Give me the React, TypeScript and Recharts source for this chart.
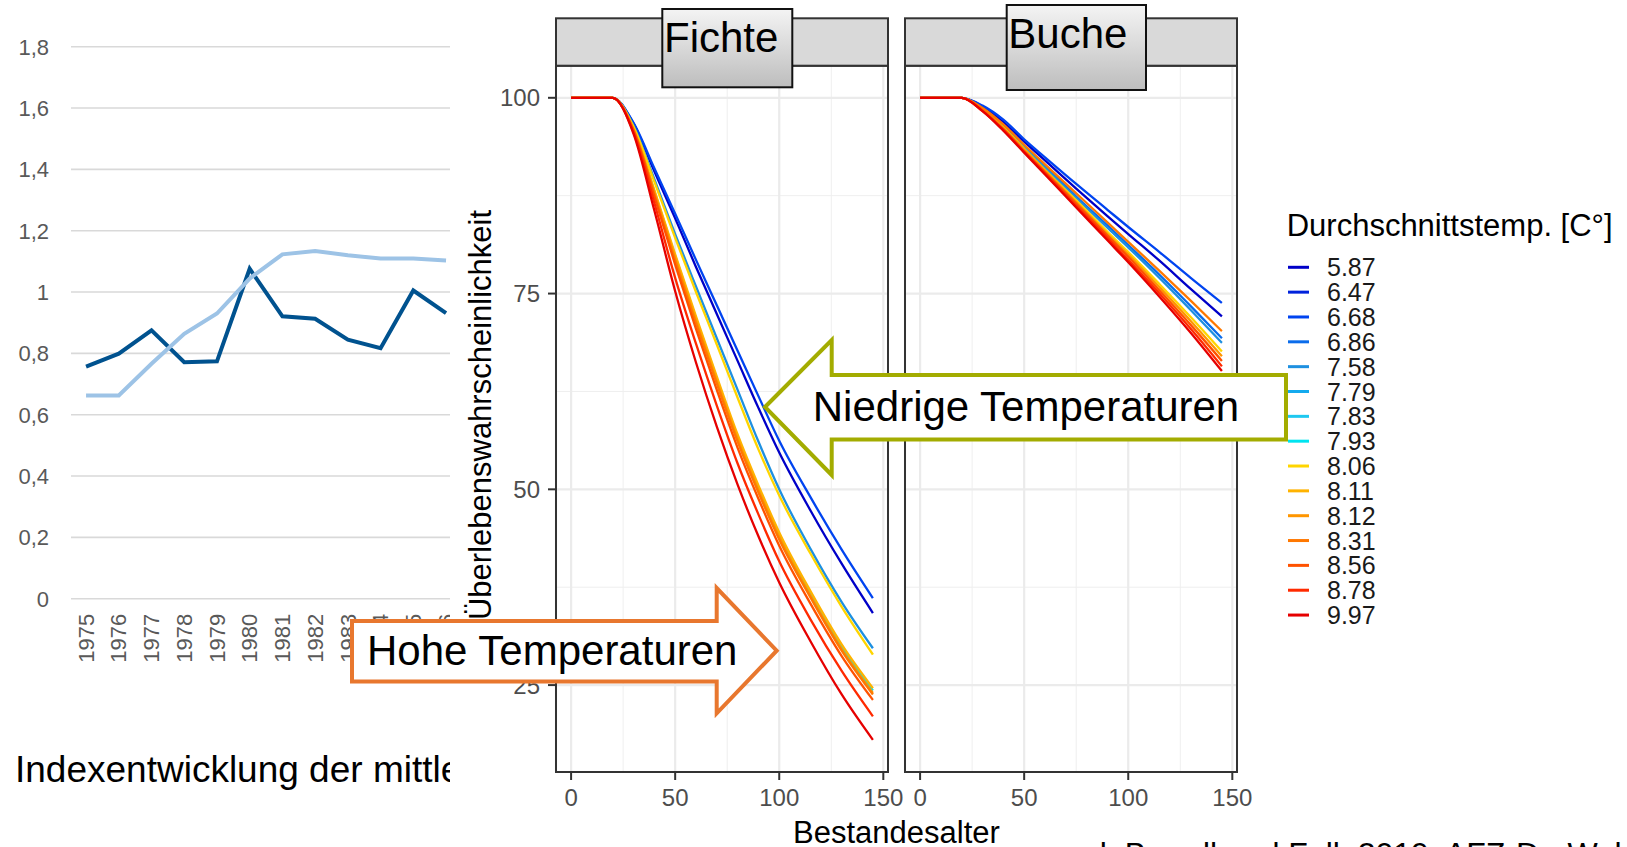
import React from "react";
import {
  LineChart,
  Line,
  XAxis,
  YAxis,
  CartesianGrid,
  ReferenceArea,
} from "recharts";

const FONT = '"Liberation Sans", Arial, Helvetica, sans-serif';

// left chart: index values
const years = [1975, 1976, 1977, 1978, 1979, 1980, 1981, 1982, 1983, 1984, 1985, 1986];
const indexDark = [0.757, 0.799, 0.875, 0.771, 0.774, 1.076, 0.921, 0.913, 0.845, 0.817, 1.005, 0.931];
const indexLight = [0.663, 0.663, 0.766, 0.864, 0.93, 1.044, 1.123, 1.134, 1.12, 1.109, 1.109, 1.103];
const indexTicks = [0, 0.2, 0.4, 0.6, 0.8, 1, 1.2, 1.4, 1.6, 1.8];

// legend
const temps = ["5.87", "6.47", "6.68", "6.86", "7.58", "7.79", "7.83", "7.93", "8.06", "8.11", "8.12", "8.31", "8.56", "8.78", "9.97"];
const tempColors = ["#0000C8", "#0022DC", "#0044F0", "#0A6CEB", "#1E90E0", "#14AAEE", "#1EC8F0", "#00E4F0", "#FFD500", "#FFB300", "#FF9600", "#FF7800", "#FF5200", "#FF2A00", "#E60000"];

// Fichte survival (%) by stand age
const fichteAges = [0, 20, 30, 40, 50, 60, 70, 80, 90, 100, 115, 130, 145];
const fichte587 = [100, 100, 96.7, 90.6, 84.6, 78.4, 72.4, 66.4, 60.4, 54.7, 47.3, 40.5, 34.2];
const fichte668 = [100, 100, 96.8, 91.0, 85.2, 79.3, 73.5, 67.7, 61.9, 56.2, 49.0, 42.3, 36.1];
const fichte758 = [100, 100, 96.4, 89.6, 82.6, 75.9, 69.3, 62.7, 56.1, 50.0, 42.4, 35.6, 29.7];
const fichte793 = [100, 100, 96.0, 88.1, 79.8, 71.8, 64.1, 56.7, 50.2, 44.2, 36.7, 29.9, 24.3];
const fichte806 = [100, 100, 96.3, 89.3, 82.1, 75.2, 68.5, 61.7, 55.1, 49.2, 41.8, 35.0, 28.9];
const fichte811 = [100, 100, 96.0, 88.2, 80.0, 72.1, 64.4, 57.0, 50.5, 44.5, 37.0, 30.2, 24.6];
const fichte812 = [100, 100, 95.9, 87.9, 79.5, 71.5, 63.8, 56.4, 49.9, 43.9, 36.4, 29.6, 24.0];
const fichte831 = [100, 100, 95.9, 87.7, 79.2, 71.2, 63.5, 56.1, 49.6, 43.6, 36.2, 29.4, 23.8];
const fichte856 = [100, 100, 95.8, 87.4, 78.7, 70.5, 62.7, 55.3, 48.8, 42.8, 35.4, 28.7, 23.1];
const fichte878 = [100, 100, 95.6, 86.6, 77.0, 68.6, 60.7, 53.3, 46.8, 40.8, 33.4, 26.8, 21.0];
const fichte997 = [100, 100, 95.4, 85.6, 75.3, 66.2, 58.0, 50.6, 44.0, 38.1, 30.6, 23.8, 18.0];

// Buche survival (%) by stand age
const bucheAges = [0, 20, 30, 40, 50, 60, 75, 90, 100, 115, 130, 145];
const buche587 = [100, 100, 98.9, 96.9, 94.4, 92.0, 88.4, 84.9, 82.6, 79.2, 75.6, 72.1];
const buche668 = [100, 100, 99.0, 97.2, 94.7, 92.4, 89.0, 85.7, 83.5, 80.3, 77.0, 73.8];
const buche686 = [100, 100, 98.6, 96.5, 93.8, 91.3, 87.4, 83.7, 81.2, 77.4, 73.4, 69.3];
const buche758 = [100, 100, 98.6, 96.4, 93.7, 91.1, 87.2, 83.4, 80.9, 77.0, 72.9, 68.7];
const buche806 = [100, 100, 98.5, 96.2, 93.5, 90.8, 86.9, 82.9, 80.3, 76.2, 72.0, 67.6];
const buche812 = [100, 100, 98.5, 96.1, 93.4, 90.7, 86.7, 82.6, 80.0, 75.8, 71.5, 67.0];
const buche831 = [100, 100, 98.7, 96.6, 94.0, 91.5, 87.8, 84.1, 81.6, 77.9, 74.1, 70.2];
const buche856 = [100, 100, 98.4, 96.0, 93.2, 90.5, 86.5, 82.4, 79.7, 75.4, 71.0, 66.4];
const buche878 = [100, 100, 98.3, 95.9, 93.1, 90.4, 86.2, 82.1, 79.3, 75.0, 70.5, 65.7];
const buche997 = [100, 100, 98.3, 95.8, 93.0, 90.2, 86.0, 81.8, 79.0, 74.6, 70.0, 65.1];

const ageTicks = [0, 50, 100, 150];
const ageMinor = [25, 75, 125];
const survTicks = [25, 50, 75, 100];
const survMinor = [37.5, 62.5, 87.5];
const ageDomain: [number, number] = [-7.25, 152.25];
const survDomain: [number, number] = [13.9, 104.1];

type Series = [string, number[]];

const fichteSeries: Series[] = [
  ["5.87", fichte587],
  ["6.68", fichte668],
  ["7.58", fichte758],
  ["7.93", fichte793],
  ["8.06", fichte806],
  ["8.11", fichte811],
  ["8.12", fichte812],
  ["8.31", fichte831],
  ["8.56", fichte856],
  ["8.78", fichte878],
  ["9.97", fichte997],
];

const bucheSeries: Series[] = [
  ["5.87", buche587],
  ["6.68", buche668],
  ["6.86", buche686],
  ["7.58", buche758],
  ["8.06", buche806],
  ["8.12", buche812],
  ["8.31", buche831],
  ["8.56", buche856],
  ["8.78", buche878],
  ["9.97", buche997],
];

function toRows(ages: number[], series: Series[]) {
  return ages.map((age, i) => {
    const row: Record<string, number> = { age };
    series.forEach(([t, vals]) => {
      row[t] = vals[i];
    });
    return row;
  });
}

const colorOf = (t: string) => tempColors[temps.indexOf(t)];

const indexRows = years.map((year, i) => ({
  year,
  dark: indexDark[i],
  light: indexLight[i],
}));

const fmtIndex = (v: number) =>
  v === 0 ? "0" : v === 1 ? "1" : v.toFixed(1).replace(".", ",");

function YearTick({ x, y, payload }: any) {
  return (
    <text
      x={x}
      y={y}
      dy="0.35em"
      textAnchor="end"
      transform={`rotate(-90, ${x}, ${y})`}
      fontSize={22}
      fill="#595959"
      fontFamily={FONT}
    >
      {payload.value}
    </text>
  );
}

function IndexChart() {
  return (
    <div
      style={{
        position: "absolute",
        left: 0,
        top: 0,
        width: 450,
        height: 847,
        overflow: "hidden",
      }}
    >
      <LineChart
        width={470}
        height={690}
        data={indexRows}
        margin={{ top: 46.7, right: 7.6, bottom: 0, left: 0 }}
      >
        <CartesianGrid vertical={false} stroke="#D9D9D9" strokeWidth={1.6} />
        <XAxis
          type="number"
          dataKey="year"
          domain={[1974.54, 1986.5]}
          ticks={years}
          interval={0}
          allowDataOverflow
          axisLine={false}
          tickLine={false}
          tickSize={0}
          tickMargin={15}
          height={91.3}
          tick={<YearTick />}
        />
        <YAxis
          type="number"
          domain={[0, 1.8]}
          ticks={indexTicks}
          interval={0}
          width={71}
          axisLine={false}
          tickLine={false}
          tickSize={0}
          tickMargin={22}
          tickFormatter={fmtIndex}
          tick={{ fontSize: 22, fill: "#595959", fontFamily: FONT }}
        />
        <Line
          dataKey="dark"
          type="linear"
          stroke="#00528F"
          strokeWidth={4}
          dot={false}
          activeDot={false}
          isAnimationActive={false}
        />
        <Line
          dataKey="light"
          type="linear"
          stroke="#9DC3E6"
          strokeWidth={4}
          dot={false}
          activeDot={false}
          isAnimationActive={false}
        />
      </LineChart>
      <svg width={450} height={847} style={{ position: "absolute", left: 0, top: 0 }}>
        <text x={15} y={781.7} fontSize={37} fontFamily={FONT} fill="#000">
          Indexentwicklung der mittleren
        </text>
      </svg>
    </div>
  );
}

function Facet({
  left,
  ages,
  series,
  showY,
}: {
  left: number;
  ages: number[];
  series: Series[];
  showY: boolean;
}) {
  const rows = toRows(ages, series);
  return (
    <div style={{ position: "absolute", left, top: 0 }}>
      <LineChart
        width={showY ? 432 : 372}
        height={812}
        data={rows}
        margin={{ top: 65.7, right: showY ? 24 : 25, bottom: 0, left: showY ? 0 : 15 }}
      >
        <CartesianGrid
          stroke="#EFEFEF"
          strokeWidth={1}
          horizontalValues={survMinor}
          verticalValues={ageMinor}
        />
        <CartesianGrid stroke="#EBEBEB" strokeWidth={2.2} />
        <XAxis
          type="number"
          dataKey="age"
          domain={ageDomain}
          ticks={ageTicks}
          interval={0}
          allowDataOverflow
          axisLine={false}
          tickSize={8}
          tickMargin={9}
          tickLine={{ stroke: "#333", strokeWidth: 2 }}
          height={40}
          tick={{ fontSize: 24, fill: "#4D4D4D", fontFamily: FONT }}
        />
        <YAxis
          type="number"
          domain={survDomain}
          ticks={survTicks}
          interval={0}
          allowDataOverflow
          hide={!showY}
          width={76}
          axisLine={false}
          tickSize={8}
          tickMargin={8}
          tickLine={{ stroke: "#333", strokeWidth: 2 }}
          tick={{ fontSize: 24, fill: "#4D4D4D", fontFamily: FONT }}
        />
        {series.map(([t]) => (
          <Line
            key={t}
            dataKey={t}
            type="monotone"
            stroke={colorOf(t)}
            strokeWidth={2.3}
            dot={false}
            activeDot={false}
            isAnimationActive={false}
          />
        ))}
        <ReferenceArea
          x1={ageDomain[0]}
          x2={ageDomain[1]}
          y1={survDomain[0]}
          y2={survDomain[1]}
          fill="none"
          fillOpacity={0}
          stroke="#333"
          strokeWidth={2}
          ifOverflow="visible"
        />
      </LineChart>
    </div>
  );
}

function Overlay() {
  const legendTop = 267.3;
  const legendStep = 24.84;
  return (
    <svg
      width={1627}
      height={847}
      style={{ position: "absolute", left: 0, top: 0 }}
      fontFamily={FONT}
    >
      <defs>
        <linearGradient id="stripBtn" x1="0" y1="0" x2="0" y2="1">
          <stop offset="0" stopColor="#F4F4F4" />
          <stop offset="1" stopColor="#BDBDBD" />
        </linearGradient>
      </defs>

      {/* facet strips */}
      <rect x={556} y={18.3} width={332} height={47.4} fill="#D9D9D9" stroke="#333" strokeWidth={2} />
      <rect x={905} y={18.3} width={332} height={47.4} fill="#D9D9D9" stroke="#333" strokeWidth={2} />

      {/* label boxes over the strips */}
      <rect x={662.3} y={9} width={130} height={78.3} fill="url(#stripBtn)" stroke="#111" strokeWidth={2} />
      <text x={664} y={51.7} fontSize={42} fill="#000">Fichte</text>
      <rect x={1006.7} y={5} width={139.3} height={85} fill="url(#stripBtn)" stroke="#111" strokeWidth={2} />
      <text x={1008.3} y={48.3} fontSize={42} fill="#000">Buche</text>

      {/* axis titles */}
      <text
        transform="translate(491,415) rotate(-90)"
        textAnchor="middle"
        fontSize={31}
        fill="#000"
      >
        Überlebenswahrscheinlichkeit
      </text>
      <text x={896.5} y={843} textAnchor="middle" fontSize={31} fill="#000">
        Bestandesalter
      </text>

      {/* legend */}
      <text x={1286.7} y={236} fontSize={31} fill="#000">
        Durchschnittstemp. [C°]
      </text>
      {temps.map((t, i) => {
        const cy = legendTop + i * legendStep;
        return (
          <g key={t}>
            <line x1={1288} x2={1309} y1={cy} y2={cy} stroke={tempColors[i]} strokeWidth={3} />
            <text x={1327} y={cy} dy="0.36em" fontSize={25} fill="#1A1A1A">
              {t}
            </text>
          </g>
        );
      })}

      {/* annotation arrows */}
      <polygon
        points="765,407 831.7,340 831.7,375 1286,375 1286,439.5 831.7,439.5 831.7,475"
        fill="#FFFFFF"
        stroke="#A3AC00"
        strokeWidth={4}
      />
      <text x={1026} y={421} textAnchor="middle" fontSize={42} fill="#000">
        Niedrige Temperaturen
      </text>
      <polygon
        points="352,621 716.7,621 716.7,588 776.7,650.7 716.7,713.3 716.7,681.5 352,681.5"
        fill="#FFFFFF"
        stroke="#E8772E"
        strokeWidth={4}
      />
      <text x={367} y={665} fontSize={42} fill="#000">
        Hohe Temperaturen
      </text>

      {/* source, cut by the bottom edge */}
      <text x={1066} y={865} fontSize={32} fill="#000">
        vgl. Brandl und Falk 2019, AFZ-DerWald
      </text>
    </svg>
  );
}

export default function App() {
  return (
    <div
      style={{
        position: "fixed",
        left: 0,
        top: 0,
        width: 1627,
        height: 847,
        overflow: "hidden",
        background: "#fff",
        fontFamily: FONT,
      }}
    >
      <IndexChart />
      <div
        style={{
          position: "absolute",
          left: 450,
          top: 0,
          width: 1177,
          height: 847,
          background: "#fff",
        }}
      />
      <Facet left={480} ages={fichteAges} series={fichteSeries} showY />
      <Facet left={890} ages={bucheAges} series={bucheSeries} showY={false} />
      <Overlay />
    </div>
  );
}
